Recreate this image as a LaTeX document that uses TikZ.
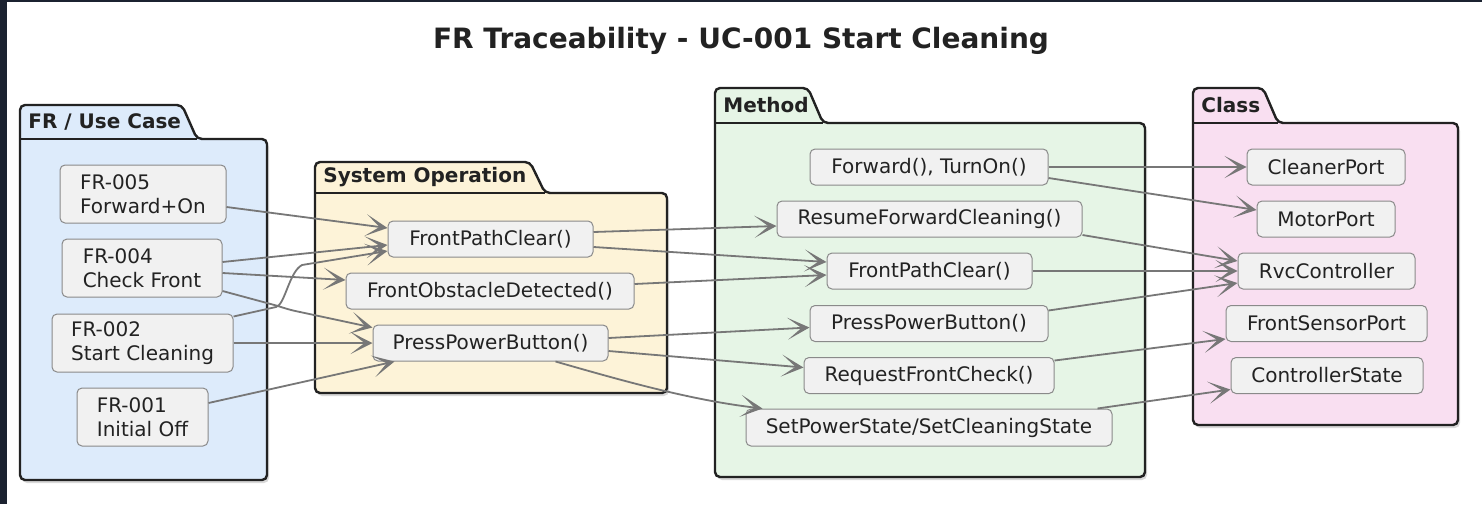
\documentclass[tikz,border=0pt]{standalone}
\usepackage{fontspec}
\setmainfont{DejaVu Sans}
\usetikzlibrary{arrows.meta,calc}

\definecolor{frame}{HTML}{1B2230}
\definecolor{pkgline}{HTML}{222222}
\definecolor{boxline}{HTML}{8A8A8A}
\definecolor{boxfill}{HTML}{F1F1F1}
\definecolor{txt}{HTML}{222222}
\definecolor{wire}{HTML}{777777}
\definecolor{ucfill}{HTML}{DDEBFB}
\definecolor{opfill}{HTML}{FDF3D8}
\definecolor{mtfill}{HTML}{E6F5E6}
\definecolor{clfill}{HTML}{F9DFF1}

\tikzset{
  item/.style={draw=boxline, fill=boxfill, line width=0.5pt, rounded corners=2.5pt,
    inner sep=0pt, text=txt, font=\fontsize{10}{12}\selectfont, minimum height=18pt},
  pkg/.style={draw=pkgline, line width=1.2pt, rounded corners=2.5pt},
  link/.style={draw=wire, line width=0.9pt, -{Stealth[length=11pt,width=11pt,inset=7pt]}},
  pkglabel/.style={anchor=west, font=\bfseries\fontsize{10}{12}\selectfont, text=txt, inner sep=0pt},
}

% folder-shaped package: left, tab top, tab right, body top, right, bottom, fill, label name, label text
\newcommand\pkgfolder[9]{%
  \fill[black, opacity=0.15, rounded corners=2.5pt, shift={(2,3)}]
    (#1,#2) -- (#3,#2) -- ({#3+15},#4) -- (#5,#4) -- (#5,#6) -- (#1,#6) -- cycle;
  \draw[pkg, fill=#7]
    (#1,#2) -- (#3,#2) -- ({#3+15},#4) -- (#5,#4) -- (#5,#6) -- (#1,#6) -- cycle;
  \draw[pkg] (#1,#4) -- ({#3+15},#4);
  \node[pkglabel] (#8) at ({#1+8},{(#2+#4)/2}) {#9};
}

\begin{document}
\begin{tikzpicture}[x=0.5pt, y=-0.5pt]
  \useasboundingbox (0,0) rectangle (1482,504);
  \fill[frame] (0,0) rectangle (1482,504);
  \fill[white] (7,2) rectangle (1482,504);

  \node[font=\bfseries\fontsize{14}{17}\selectfont, text=txt] (title) at (741,41)
    {FR Traceability - UC-001 Start Cleaning};

  % packages
  \pkgfolder{20}{105}{182}{139}{267}{480}{ucfill}{uclabel}{FR / Use Case}
  \pkgfolder{315}{162}{530}{193}{667}{393}{opfill}{oplabel}{System Operation}
  \pkgfolder{715}{88}{808}{123}{1145}{477}{mtfill}{mtlabel}{Method}
  \pkgfolder{1193}{88}{1263}{123}{1458}{425}{clfill}{cllabel}{Class}

  % functional requirements
  \node[item, align=left, minimum width=83pt, minimum height=29pt] (fr5) at (143,194) {FR-005\\Forward+On};
  \node[item, align=left, minimum width=80pt, minimum height=29pt] (fr4) at (142,268) {FR-004\\Check Front};
  \node[item, align=left, minimum width=90.5pt, minimum height=29pt] (fr2) at (142.5,343) {FR-002\\Start Cleaning};
  \node[item, align=left, minimum width=65.5pt, minimum height=29pt] (fr1) at (142.5,417) {FR-001\\Initial Off};

  % system operations
  \node[item, minimum width=102.5pt] (spc) at (490.5,239) {FrontPathClear()};
  \node[item, minimum width=144pt] (sod) at (490,291) {FrontObstacleDetected()};
  \node[item, minimum width=117.5pt] (spp) at (490.5,343) {PressPowerButton()};

  % methods
  \node[item, minimum width=119pt] (mfw) at (929,167) {Forward(), TurnOn()};
  \node[item, minimum width=152.5pt] (mrf) at (929.5,219) {ResumeForwardCleaning()};
  \node[item, minimum width=102.5pt] (mpc) at (929.5,271) {FrontPathClear()};
  \node[item, minimum width=119pt] (mpp) at (929,323.5) {PressPowerButton()};
  \node[item, minimum width=125pt] (mrq) at (929,375.5) {RequestFrontCheck()};
  \node[item, minimum width=183pt, minimum height=18.5pt] (msp) at (929,427.5) {SetPowerState/SetCleaningState};

  % classes
  \node[item, minimum width=79pt] (ccp) at (1326,167) {CleanerPort};
  \node[item, minimum width=69pt] (cmp) at (1326,219) {MotorPort};
  \node[item, minimum width=88.5pt] (crc) at (1326.5,271) {RvcController};
  \node[item, minimum width=100.5pt] (cfs) at (1326.5,323.5) {FrontSensorPort};
  \node[item, minimum width=96pt] (ccs) at (1327,375.5) {ControllerState};

  % requirement -> system operation
  \draw[link] ($(fr5.east)+(0,13)$) -- ($(spc.west)+(0,-11)$);
  \draw[link] ($(fr4.east)+(0,-6)$) -- ($(spc.west)+(0,6)$);
  \draw[link] ($(fr2.north east)+(0,3)$) -- (276,307)
    .. controls (285,305) and (289,272) .. (302,265) -- ($(spc.west)+(0,12)$);
  \draw[link] ($(fr4.east)+(0,5)$) -- ($(sod.west)+(0,-11)$);
  \draw[link] ($(fr4.east)+(0,23)$) -- (278,306)
    .. controls (284,308) and (290,310) .. (300,312) -- ($(spp.north west)+(0,3)$);
  \draw[link] (fr2.east) -- (spp.west);
  \draw[link] ($(fr1.east)+(0,-14)$) -- ($(spp.south west)+(22,0)$);

  % system operation -> method
  \draw[link] ($(spc.east)+(0,-7)$) -- ($(mrf.west)+(0,7)$);
  \draw[link] ($(spc.east)+(0,8)$) -- ($(mpc.west)+(0,-9)$);
  \draw[link] ($(sod.east)+(0,-7)$) -- ($(mpc.west)+(0,4)$);
  \draw[link] ($(spp.east)+(0,-5)$) -- ($(mpp.west)+(0,4)$);
  \draw[link] ($(spp.east)+(0,8)$) -- ($(mrq.west)+(0,-8)$);
  \draw[link] ($(spp.south)+(65,0)$) .. controls (620,380) and (690,400) .. ($(msp.north west)+(17,0)$);

  % method -> class
  \draw[link] (mfw.east) -- (ccp.west);
  \draw[link] ($(mfw.east)+(0,11)$) -- ($(cmp.west)+(0,-9)$);
  \draw[link] ($(mrf.east)+(0,16)$) -- ($(crc.west)+(0,-10)$);
  \draw[link] (mpc.east) -- (crc.west);
  \draw[link] ($(mpp.east)+(0,-13)$) -- ($(crc.west)+(0,12)$);
  \draw[link] ($(mrq.east)+(0,-15)$) -- ($(cfs.south west)+(0,-3)$);
  \draw[link] ($(msp.north east)+(-15,0)$) -- ($(ccs.west)+(0,14)$);
\end{tikzpicture}
\end{document}
